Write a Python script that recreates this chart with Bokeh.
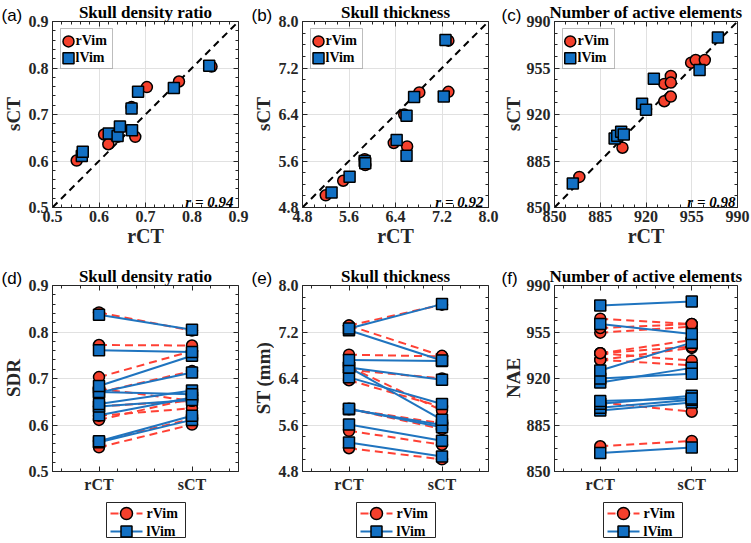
import numpy as np
from bokeh.plotting import figure
from bokeh.models import Range1d, FixedTicker, PrintfTickFormatter, LinearAxis, Label, BoxAnnotation, Spacer
from bokeh.layouts import column, row
from bokeh.embed import file_html
from bokeh.resources import INLINE

# ---------------- data ----------------
sdr_r_rct = [0.552, 0.565, 0.611, 0.620, 0.640, 0.670, 0.678, 0.703, 0.772, 0.842]
sdr_r_sct = [0.601, 0.613, 0.657, 0.636, 0.652, 0.716, 0.652, 0.759, 0.771, 0.803]
sdr_l_rct = [0.563, 0.565, 0.621, 0.640, 0.645, 0.670, 0.671, 0.684, 0.761, 0.837]
sdr_l_sct = [0.611, 0.620, 0.659, 0.654, 0.674, 0.713, 0.666, 0.749, 0.757, 0.805]

st_r_rct = [5.20, 5.50, 5.87, 5.88, 6.37, 6.55, 6.60, 6.81, 7.31, 7.31]
st_r_sct = [5.01, 5.26, 5.63, 5.53, 5.91, 6.40, 5.85, 6.78, 6.79, 7.67]
st_l_rct = [5.30, 5.61, 5.87, 5.88, 6.42, 6.59, 6.59, 6.72, 7.23, 7.26]
st_l_sct = [5.06, 5.33, 5.60, 5.56, 5.96, 5.69, 6.38, 6.70, 6.71, 7.68]

nae_r_rct = [869, 902, 934, 939, 939, 934, 939, 954.5, 958, 965]
nae_r_sct = [873, 895, 943, 949, 944, 930, 933.5, 959, 961, 961]
nae_l_rct = [864, 896, 898, 901, 903, 917, 920, 926, 961, 975]
nae_l_sct = [868, 902, 904, 907, 905, 928, 923.5, 947, 953.5, 978]

sdr_ticks = [0.5, 0.6, 0.7, 0.8, 0.9]
st_ticks = [4.8, 5.6, 6.4, 7.2, 8.0]
nae_ticks = [850, 885, 920, 955, 990]

r_values = ["r = 0.94", "r = 0.92", "r = 0.98"]
titles = ["Skull density ratio", "Skull thickness", "Number of active elements"]
ylabels_bottom = ["SDR", "ST (mm)", "NAE"]
panel_top = ["(a)", "(b)", "(c)"]
panel_bottom = ["(d)", "(e)", "(f)"]
groups = ["rCT", "sCT"]
series = ["rVim", "lVim"]

# ---------------- style / geometry ----------------
RED = "#F5402C"
BLUE = "#1270C4"
RED_LINE = "#FF4034"
BLUE_LINE = "#1F74BF"
DARK = "#262626"
GRID = "#E1E1E1"
SERIF = "Liberation Serif"
SANS = "Liberation Sans"

STRIP_W = [24, 24, 23]
COLS = [dict(left=28, fw=186, right=12), dict(left=28, fw=186, right=12), dict(left=28, fw=186, right=14)]
TOP = 20
FH = 187
B1, B2 = 57, 27
H_TOP = TOP + FH + B1      # 264
H_BOT = TOP + FH + B2      # 234


def minors(ticks, n):
    out = []
    for a, b in zip(ticks[:-1], ticks[1:]):
        step = (b - a) / n
        out += [a + step * k for k in range(1, n)]
    return out


def style_axis(ax, ticks, minor, fmt=None, overrides=None):
    ax.ticker = FixedTicker(ticks=ticks, minor_ticks=minor)
    if fmt is not None:
        ax.formatter = fmt
    if overrides is not None:
        ax.major_label_overrides = overrides
    ax.axis_line_color = DARK
    ax.axis_line_width = 1
    ax.major_tick_line_color = DARK
    ax.minor_tick_line_color = DARK
    ax.major_tick_in = 5
    ax.major_tick_out = 0
    ax.minor_tick_in = 3
    ax.minor_tick_out = 0
    ax.major_label_text_font = SERIF
    ax.major_label_text_font_style = "bold"
    ax.major_label_text_color = DARK
    ax.major_label_text_font_size = "16px"
    ax.major_label_standoff = 4


def edge_axis(positions, length):
    ax = LinearAxis(ticker=FixedTicker(ticks=[], minor_ticks=positions))
    ax.axis_line_color = None
    ax.major_tick_line_color = None
    ax.minor_tick_line_color = DARK
    ax.minor_tick_in = length
    ax.minor_tick_out = 0
    ax.major_label_standoff = 0
    return ax


def add_edges(p, xmaj, xmin, ymaj, ymin):
    p.add_layout(edge_axis(xmaj, 5), "above")
    p.add_layout(edge_axis(xmin, 3), "above")
    p.add_layout(edge_axis(ymaj, 5), "right")
    p.add_layout(edge_axis(ymin, 3), "right")


def base_fig(col, bottom, xr, yr, title):
    c = COLS[col]
    p = figure(width=c["left"] + c["fw"] + c["right"], height=TOP + FH + bottom,
               x_range=Range1d(*xr), y_range=Range1d(*yr),
               output_backend="svg", toolbar_location=None,
               min_border_left=c["left"], min_border_right=c["right"],
               min_border_top=TOP, min_border_bottom=bottom)
    p.title.text = title
    p.title.align = "center"
    p.title.text_font = SERIF
    p.title.text_font_style = "bold"
    p.title.text_font_size = "17px"
    p.title.text_color = "black"
    p.title.standoff = 0
    p.outline_line_color = DARK
    p.outline_line_width = 1
    p.background_fill_color = "white"
    p.border_fill_color = "white"
    return p


def blank_fig(w, h):
    p = figure(width=w, height=h, x_range=Range1d(0, 1), y_range=Range1d(0, 1),
               x_axis_type=None, y_axis_type=None, output_backend="svg",
               toolbar_location=None, min_border=0)
    p.outline_line_color = None
    p.background_fill_color = "white"
    p.border_fill_color = "white"
    return p


def wrap_panel(col, main, plabel, ylabel, H, plabel_top):
    strip = blank_fig(STRIP_W[col], H)
    strip.add_layout(Label(x=1, y=H - plabel_top, x_units="screen", y_units="screen", text=plabel,
                           text_align="left", text_baseline="middle", text_font=SANS,
                           text_font_size="17px", text_color="black"))
    strip.add_layout(Label(x=13, y=H - (TOP + FH / 2), x_units="screen", y_units="screen",
                           text=ylabel, angle=90, angle_units="deg", text_align="center",
                           text_baseline="middle", text_font=SERIF, text_font_style="bold",
                           text_font_size="19px", text_color=DARK))
    return row(strip, column(main))


def scatter_panel(col, rr, rs, lr, ls, ticks, nminor, fmt, title, rtext, plabel):
    c = COLS[col]
    fw = c["fw"]
    lo, hi = ticks[0], ticks[-1]
    p = base_fig(col, B1, (lo, hi), (lo, hi), title)
    mn = minors(ticks, nminor)
    style_axis(p.xaxis[0], ticks, mn, fmt)
    style_axis(p.yaxis[0], ticks, mn, fmt)
    p.xaxis[0].major_label_standoff = 3
    p.xaxis[0].axis_label = groups[0]
    p.xaxis[0].axis_label_standoff = 0
    p.xaxis[0].axis_label_text_font = SERIF
    p.xaxis[0].axis_label_text_font_style = "bold"
    p.xaxis[0].axis_label_text_font_size = "20px"
    p.xaxis[0].axis_label_text_color = DARK
    add_edges(p, ticks, mn, ticks, mn)
    p.xgrid.ticker = FixedTicker(ticks=ticks)
    p.ygrid.ticker = FixedTicker(ticks=ticks)
    p.grid.grid_line_color = GRID
    p.grid.grid_line_width = 1

    p.line([lo, hi], [lo, hi], line_color="black", line_width=2, line_dash="7 5")
    p.scatter(rr, rs, marker="circle", size=11, fill_color=RED, line_color="black", line_width=1.5)
    p.scatter(lr, ls, marker="square", size=11, fill_color=BLUE, line_color="black", line_width=1.5)

    # legend (top-left, inside the frame)
    p.add_layout(BoxAnnotation(left=8, right=60, top=FH - 8, bottom=FH - 48,
                               left_units="screen", right_units="screen",
                               top_units="screen", bottom_units="screen",
                               fill_color="white", fill_alpha=1, line_color=DARK,
                               line_width=1, level="underlay"))
    span = hi - lo
    lx = lo + 16 / fw * span
    p.scatter([lx], [hi - 20 / FH * span], marker="circle", size=11, fill_color=RED,
              line_color="black", line_width=1.5)
    p.scatter([lx], [hi - 37 / FH * span], marker="square", size=11, fill_color=BLUE,
              line_color="black", line_width=1.5)
    for name, dy in zip(series, [20, 37]):
        p.add_layout(Label(x=23, y=FH - dy, x_units="screen", y_units="screen", text=name,
                           text_align="left", text_baseline="middle", text_font=SERIF,
                           text_font_style="bold", text_font_size="14px", text_color="black"))
    p.add_layout(Label(x=fw - 5, y=6, x_units="screen", y_units="screen", text=rtext,
                       text_align="right", text_baseline="alphabetic", text_font=SERIF,
                       text_font_style="bold italic", text_font_size="15px", text_color="black"))
    return wrap_panel(col, p, plabel, groups[1], H_TOP, 15)


def pair_panel(col, rr, rs, lr, ls, ticks, nminor, fmt, title, ylabel, plabel):
    lo, hi = ticks[0], ticks[-1]
    p = base_fig(col, B2, (0.5, 2.5), (lo, hi), title)
    pos = [i + 1 for i in range(len(groups))]
    xminor = [float(v) for v in np.round(np.arange(0.6, 2.5, 0.2), 2) if abs(v - round(v)) > 1e-6]
    mn = minors(ticks, nminor)
    style_axis(p.xaxis[0], pos, xminor, overrides={k: g for k, g in zip(pos, groups)})
    style_axis(p.yaxis[0], ticks, mn, fmt)
    add_edges(p, pos, xminor, ticks, mn)
    p.xgrid.visible = False
    p.ygrid.ticker = FixedTicker(ticks=ticks)
    p.ygrid.grid_line_color = GRID

    n = len(rr)
    x0 = [pos[0]] * n
    x1 = [pos[1]] * n
    p.segment(x0=x0, y0=rr, x1=x1, y1=rs, line_color=RED_LINE, line_width=2, line_dash="8 5")
    p.scatter(x0 + x1, list(rr) + list(rs), marker="circle", size=11, fill_color=RED,
              line_color="black", line_width=1.5)
    m = len(lr)
    x0 = [pos[0]] * m
    x1 = [pos[1]] * m
    p.segment(x0=x0, y0=lr, x1=x1, y1=ls, line_color=BLUE_LINE, line_width=2)
    p.scatter(x0 + x1, list(lr) + list(ls), marker="square", size=11, fill_color=BLUE,
              line_color="black", line_width=1.5)
    return wrap_panel(col, p, plabel, ylabel, H_BOT, 14)


def legend_fig():
    p = figure(width=80, height=36, x_range=Range1d(0, 80), y_range=Range1d(0, 36),
               x_axis_type=None, y_axis_type=None, output_backend="svg",
               toolbar_location=None, min_border=0)
    p.outline_line_color = DARK
    p.outline_line_width = 1
    p.line([4, 36], [25, 25], line_color=RED_LINE, line_width=2, line_dash="8 5")
    p.scatter([20], [25], marker="circle", size=12, fill_color=RED, line_color="black", line_width=1.5)
    p.line([4, 36], [7, 7], line_color=BLUE_LINE, line_width=2)
    p.scatter([20], [7], marker="square", size=11, fill_color=BLUE, line_color="black", line_width=1.5)
    for name, yy in zip(series, [25, 7]):
        p.add_layout(Label(x=40, y=yy, text=name, text_align="left", text_baseline="middle",
                           text_font=SERIF, text_font_style="bold", text_font_size="14px",
                           text_color="black"))
    return p


f1 = "%.1f"
pa = scatter_panel(0, sdr_r_rct, sdr_r_sct, sdr_l_rct, sdr_l_sct, sdr_ticks, 5,
                   PrintfTickFormatter(format=f1), titles[0], r_values[0], panel_top[0])
pb = scatter_panel(1, st_r_rct, st_r_sct, st_l_rct, st_l_sct, st_ticks, 4,
                   PrintfTickFormatter(format=f1), titles[1], r_values[1], panel_top[1])
pc = scatter_panel(2, nae_r_rct, nae_r_sct, nae_l_rct, nae_l_sct, nae_ticks, 4,
                   PrintfTickFormatter(format="%d"), titles[2], r_values[2], panel_top[2])

pd = pair_panel(0, sdr_r_rct, sdr_r_sct, sdr_l_rct, sdr_l_sct, sdr_ticks, 5,
                PrintfTickFormatter(format=f1), titles[0], ylabels_bottom[0], panel_bottom[0])
pe = pair_panel(1, st_r_rct, st_r_sct, st_l_rct, st_l_sct, st_ticks, 4,
                PrintfTickFormatter(format=f1), titles[1], ylabels_bottom[1], panel_bottom[1])
pf = pair_panel(2, nae_r_rct, nae_r_sct, nae_l_rct, nae_l_sct, nae_ticks, 4,
                PrintfTickFormatter(format="%d"), titles[2], ylabels_bottom[2], panel_bottom[2])

legend_row = row(Spacer(width=106, height=36), legend_fig(), Spacer(width=170, height=36),
                 legend_fig(), Spacer(width=167, height=36), legend_fig())

layout = column(row(pa, pb, pc), row(pd, pe, pf), Spacer(width=10, height=4), legend_row)

open("out.html", "w").write(file_html(layout, INLINE))
